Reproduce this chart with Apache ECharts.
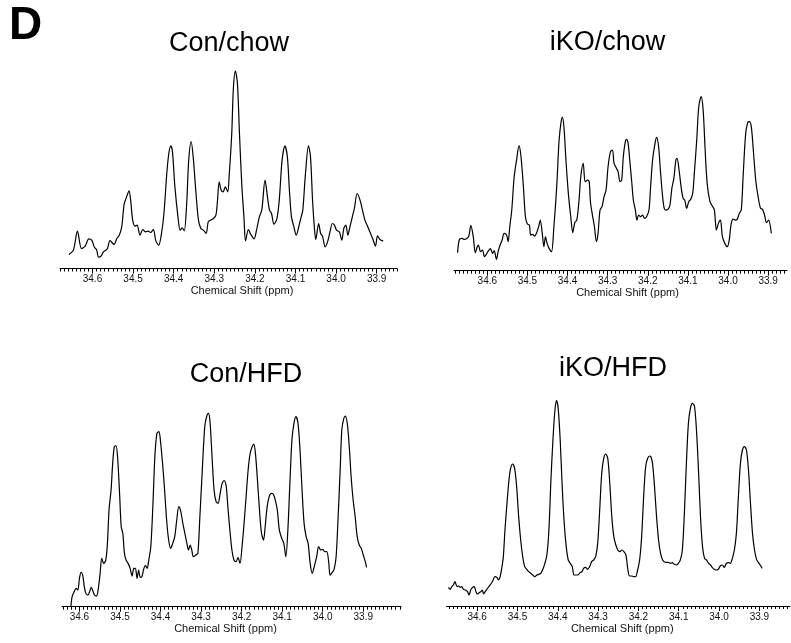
<!DOCTYPE html>
<html>
<head>
<meta charset="utf-8">
<script src="https://cdn.jsdelivr.net/npm/echarts@6/dist/echarts.min.js"></script>
<style>html,body{margin:0;padding:0;background:#fff}#c{width:791px;height:643px}</style>
</head>
<body>
<div id="c"></div>
<script>
// ---- tick labels (ppm) ----
const tickLabels = [34.6, 34.5, 34.4, 34.3, 34.2, 34.1, 34.0, 33.9];

// ---- Con/chow ----
const conChowPpm = [34.658,34.647,34.637,34.627,34.618,34.609,34.602,34.595,34.590,34.585,34.579,34.573,34.567,34.563,34.557,34.552,34.547,34.540,34.534,34.528,34.522,34.516,34.510,34.506,34.501,34.495,34.490,34.483,34.476,34.470,34.463,34.457,34.450,34.444,34.437,34.430,34.424,34.417,34.412,34.407,34.403,34.397,34.389,34.384,34.379,34.374,34.368,34.363,34.357,34.352,34.345,34.339,34.333,34.327,34.320,34.315,34.309,34.302,34.296,34.292,34.288,34.283,34.278,34.273,34.267,34.263,34.257,34.253,34.248,34.243,34.238,34.232,34.227,34.223,34.216,34.210,34.202,34.196,34.189,34.183,34.175,34.169,34.164,34.159,34.153,34.146,34.140,34.133,34.126,34.120,34.115,34.110,34.105,34.098,34.092,34.086,34.082,34.076,34.068,34.063,34.058,34.053,34.050,34.043,34.038,34.033,34.027,34.021,34.015,34.009,34.004,33.999,33.992,33.986,33.981,33.976,33.971,33.966,33.960,33.955,33.948,33.941,33.935,33.929,33.922,33.917,33.910,33.903,33.898,33.892,33.884];
const conChowInt = [42,55,112,60,67,89,85,63,57,34,37,50,55,60,84,78,72,90,100,125,193,215,233,205,145,127,130,100,117,110,112,108,117,83,70,105,165,285,345,368,350,245,150,115,122,113,195,325,381,335,225,145,120,115,105,140,145,150,160,205,260,235,230,245,230,285,405,540,592,555,405,245,155,83,117,102,89,115,155,175,265,215,175,165,133,148,205,325,368,335,235,155,130,100,125,155,175,275,368,335,205,115,87,135,105,95,65,80,110,135,130,115,110,85,120,130,100,125,155,180,225,205,175,145,125,110,90,67,98,87,82];

// ---- iKO/chow ----
const ikoChowPpm = [34.674,34.670,34.664,34.658,34.652,34.646,34.641,34.635,34.630,34.625,34.622,34.617,34.612,34.607,34.602,34.597,34.592,34.587,34.583,34.577,34.573,34.568,34.563,34.558,34.552,34.548,34.544,34.539,34.533,34.527,34.521,34.516,34.510,34.505,34.500,34.495,34.492,34.487,34.482,34.477,34.472,34.468,34.463,34.459,34.455,34.451,34.446,34.440,34.434,34.427,34.421,34.416,34.413,34.409,34.404,34.398,34.392,34.387,34.382,34.377,34.372,34.367,34.361,34.356,34.350,34.346,34.343,34.338,34.333,34.328,34.324,34.319,34.314,34.309,34.304,34.299,34.293,34.288,34.284,34.278,34.274,34.269,34.265,34.261,34.256,34.253,34.249,34.245,34.240,34.236,34.231,34.227,34.223,34.218,34.213,34.208,34.203,34.197,34.193,34.188,34.182,34.178,34.173,34.168,34.163,34.159,34.155,34.150,34.145,34.140,34.135,34.130,34.127,34.122,34.117,34.112,34.108,34.103,34.098,34.093,34.088,34.084,34.078,34.073,34.067,34.062,34.057,34.052,34.045,34.039,34.034,34.029,34.024,34.019,34.014,34.008,34.002,33.997,33.992,33.987,33.982,33.977,33.972,33.967,33.962,33.956,33.951,33.947,33.942,33.937,33.931,33.925,33.919,33.914,33.909,33.904,33.899,33.892];
const ikoChowInt = [54,92,97,94,96,104,136,102,54,72,77,57,62,42,50,60,66,52,60,34,57,77,92,112,107,87,132,182,282,332,375,342,252,162,140,137,107,109,104,114,132,152,112,72,102,82,67,57,132,252,392,447,460,432,332,232,162,114,144,152,202,282,322,267,272,267,207,167,132,87,112,182,192,222,242,312,357,362,322,307,297,267,272,342,387,394,382,332,267,212,182,152,167,162,167,157,162,182,252,332,382,400,372,292,222,187,182,184,195,247,277,332,337,302,252,217,212,187,207,214,232,292,392,492,522,482,362,262,207,194,182,122,142,152,102,82,72,92,142,155,152,154,172,182,292,412,444,447,432,362,272,222,187,184,167,144,152,112];

// ---- Con/HFD ----
const conHfdPpm = [34.621,34.618,34.613,34.608,34.604,34.600,34.596,34.592,34.588,34.584,34.579,34.575,34.571,34.567,34.563,34.558,34.554,34.549,34.545,34.540,34.535,34.531,34.527,34.522,34.518,34.514,34.510,34.506,34.501,34.497,34.493,34.489,34.485,34.480,34.475,34.470,34.466,34.462,34.458,34.454,34.450,34.446,34.441,34.437,34.433,34.429,34.424,34.419,34.414,34.409,34.404,34.400,34.395,34.390,34.385,34.380,34.375,34.370,34.365,34.360,34.355,34.350,34.345,34.340,34.335,34.331,34.327,34.323,34.319,34.313,34.308,34.303,34.297,34.291,34.286,34.282,34.278,34.273,34.268,34.263,34.258,34.253,34.248,34.243,34.238,34.234,34.229,34.224,34.219,34.214,34.209,34.204,34.199,34.194,34.189,34.184,34.179,34.174,34.170,34.166,34.161,34.156,34.151,34.146,34.142,34.137,34.132,34.127,34.122,34.117,34.112,34.107,34.101,34.096,34.091,34.086,34.081,34.076,34.071,34.066,34.061,34.056,34.051,34.046,34.041,34.036,34.031,34.026,34.020,34.015,34.010,34.005,34.000,33.995,33.990,33.985,33.982,33.977,33.972,33.967,33.962,33.957,33.953,33.948,33.944,33.939,33.934,33.930,33.925,33.920,33.915,33.910,33.905,33.900,33.895,33.892];
const conHfdInt = [2,30,45,55,50,85,103,95,60,40,35,45,58,48,35,32,50,100,145,130,140,190,290,350,430,480,483,450,340,240,220,160,140,130,115,92,115,115,85,110,88,90,115,123,115,140,180,300,450,520,525,495,430,350,260,200,175,190,210,260,300,285,250,220,190,170,185,170,150,155,160,270,410,540,572,580,555,450,350,315,310,340,370,378,360,300,230,170,140,135,147,130,180,250,330,410,460,480,488,460,380,290,220,200,240,300,330,340,338,320,290,230,205,190,150,230,370,500,550,570,550,470,350,250,210,190,130,100,125,150,180,170,172,165,165,130,95,102,112,150,270,410,530,565,572,545,470,390,320,270,210,185,175,155,135,118];

// ---- iKO/HFD ----
const ikoHfdPpm = [34.671,34.667,34.663,34.659,34.655,34.650,34.646,34.642,34.638,34.634,34.629,34.624,34.620,34.616,34.612,34.607,34.603,34.599,34.595,34.591,34.587,34.584,34.580,34.576,34.571,34.566,34.561,34.556,34.551,34.547,34.543,34.539,34.535,34.531,34.526,34.521,34.517,34.512,34.507,34.502,34.497,34.492,34.487,34.482,34.477,34.472,34.467,34.462,34.457,34.452,34.447,34.442,34.437,34.432,34.427,34.422,34.417,34.412,34.407,34.403,34.399,34.394,34.389,34.384,34.379,34.374,34.369,34.364,34.360,34.355,34.350,34.345,34.340,34.336,34.331,34.326,34.321,34.316,34.311,34.306,34.301,34.296,34.291,34.286,34.281,34.276,34.271,34.266,34.261,34.256,34.251,34.246,34.241,34.236,34.231,34.226,34.222,34.217,34.212,34.207,34.202,34.197,34.192,34.187,34.182,34.177,34.172,34.169,34.165,34.160,34.155,34.150,34.145,34.140,34.136,34.131,34.126,34.121,34.116,34.111,34.106,34.101,34.096,34.091,34.086,34.081,34.076,34.071,34.066,34.061,34.056,34.051,34.046,34.041,34.036,34.031,34.026,34.021,34.017,34.012,34.007,34.002,33.997,33.992,33.987,33.982,33.977,33.972,33.967,33.962,33.957,33.952,33.947,33.942,33.937,33.932,33.927,33.922,33.917,33.912,33.907,33.902,33.898,33.893];
const ikoHfdInt = [56,50,58,63,73,58,60,56,58,50,48,43,33,48,55,58,43,36,40,43,48,36,43,50,58,66,76,88,86,78,88,113,148,228,308,378,413,426,413,358,268,198,148,118,110,103,98,93,88,93,95,98,110,128,153,228,378,498,588,616,593,498,358,248,178,138,128,118,93,93,93,100,103,113,116,110,118,133,138,148,188,288,398,443,456,443,368,268,208,183,168,163,168,163,153,108,90,90,88,88,108,138,208,328,418,443,450,448,428,358,268,198,158,138,133,131,131,128,130,125,123,128,138,168,278,428,548,593,608,600,528,408,268,178,143,138,128,123,116,110,108,110,120,123,116,128,130,128,143,168,218,328,428,468,478,468,408,308,218,168,140,130,123,113];

// ---- layout (pixels) ----
const panels = [
  {title:'Con/chow', ppm:conChowPpm, val:conChowInt, left:60,    width:337,   axisY:268.5, min:33.850, max:34.680, tx:229,   ty:43.5,  dx:13.5},
  {title:'iKO/chow', ppm:ikoChowPpm, val:ikoChowInt, left:454,   width:333,   axisY:270.7, min:33.853, max:34.683, tx:607.5, ty:43,    dx:7},
  {title:'Con/HFD',  ppm:conHfdPpm,  val:conHfdInt,  left:62,    width:339,   axisY:606.7, min:33.807, max:34.643, tx:246,   ty:375,   dx:-6},
  {title:'iKO/HFD',  ppm:ikoHfdPpm,  val:ikoHfdInt,  left:446.5, width:343.5, axisY:606,   min:33.824, max:34.676, tx:613,   ty:368.3, dx:4}
];
const H = 643, plotH = 200, yMax = 600;
const FONT = '"Liberation Sans", Arial, Helvetica, sans-serif';

function minorTicks(min, max) {
  const a = [];
  for (let k = Math.ceil(min * 100 - 1e-6); k <= Math.floor(max * 100 + 1e-6); k++) a.push(k / 100);
  return a;
}

const grid = [], xAxis = [], yAxis = [], series = [], graphic = [];
graphic.push({type:'text', x:9, y:26.5, style:{text:'D', font:'bold 46px ' + FONT, fill:'#000', align:'left', verticalAlign:'middle', textAlign:'left', textVerticalAlign:'middle'}});
panels.forEach((p, i) => {
  grid.push({left:p.left, width:p.width, top:p.axisY - plotH, height:plotH, containLabel:false});
  const pad = p.dx >= 0 ? [0, 0, 0, 2 * p.dx] : [0, -2 * p.dx, 0, 0];
  xAxis.push({
    gridIndex:i, type:'value', inverse:true, min:p.min, max:p.max, position:'bottom',
    axisLine:{show:true, onZero:false, lineStyle:{color:'#000', width:1}},
    axisTick:{show:true, customValues:tickLabels, length:5, lineStyle:{color:'#000', width:1}},
    axisLabel:{show:true, customValues:tickLabels, formatter:v => Number(v).toFixed(1), fontSize:10, color:'#111', margin:6, fontFamily:FONT},
    splitLine:{show:false},
    name:'Chemical Shift (ppm)', nameLocation:'middle', nameGap:17,
    nameTextStyle:{fontSize:11, color:'#111', fontFamily:FONT, padding:pad}
  });
  xAxis.push({
    gridIndex:i, type:'value', inverse:true, min:p.min, max:p.max, position:'bottom',
    axisLine:{show:false, onZero:false},
    axisTick:{show:true, customValues:minorTicks(p.min, p.max), length:3, lineStyle:{color:'#000', width:1}},
    axisLabel:{show:false}, splitLine:{show:false}
  });
  yAxis.push({gridIndex:i, type:'value', min:0, max:yMax, show:false, splitLine:{show:false}});
  series.push({
    type:'line', xAxisIndex:2 * i, yAxisIndex:i, data:p.ppm.map((x, j) => [x, p.val[j]]),
    showSymbol:false, symbol:'none', smooth:0.3, silent:true, clip:false,
    lineStyle:{color:'#000', width:1.2}
  });
  graphic.push({type:'text', x:p.tx, y:p.ty, style:{text:p.title, font:'27px ' + FONT, fill:'#000', align:'center', verticalAlign:'middle', textAlign:'center', textVerticalAlign:'middle'}});
});

const chart = echarts.init(document.getElementById('c'), null, {renderer:'canvas'});
chart.setOption({animation:false, backgroundColor:'#fff', grid, xAxis, yAxis, series, graphic});
</script>
</body>
</html>
